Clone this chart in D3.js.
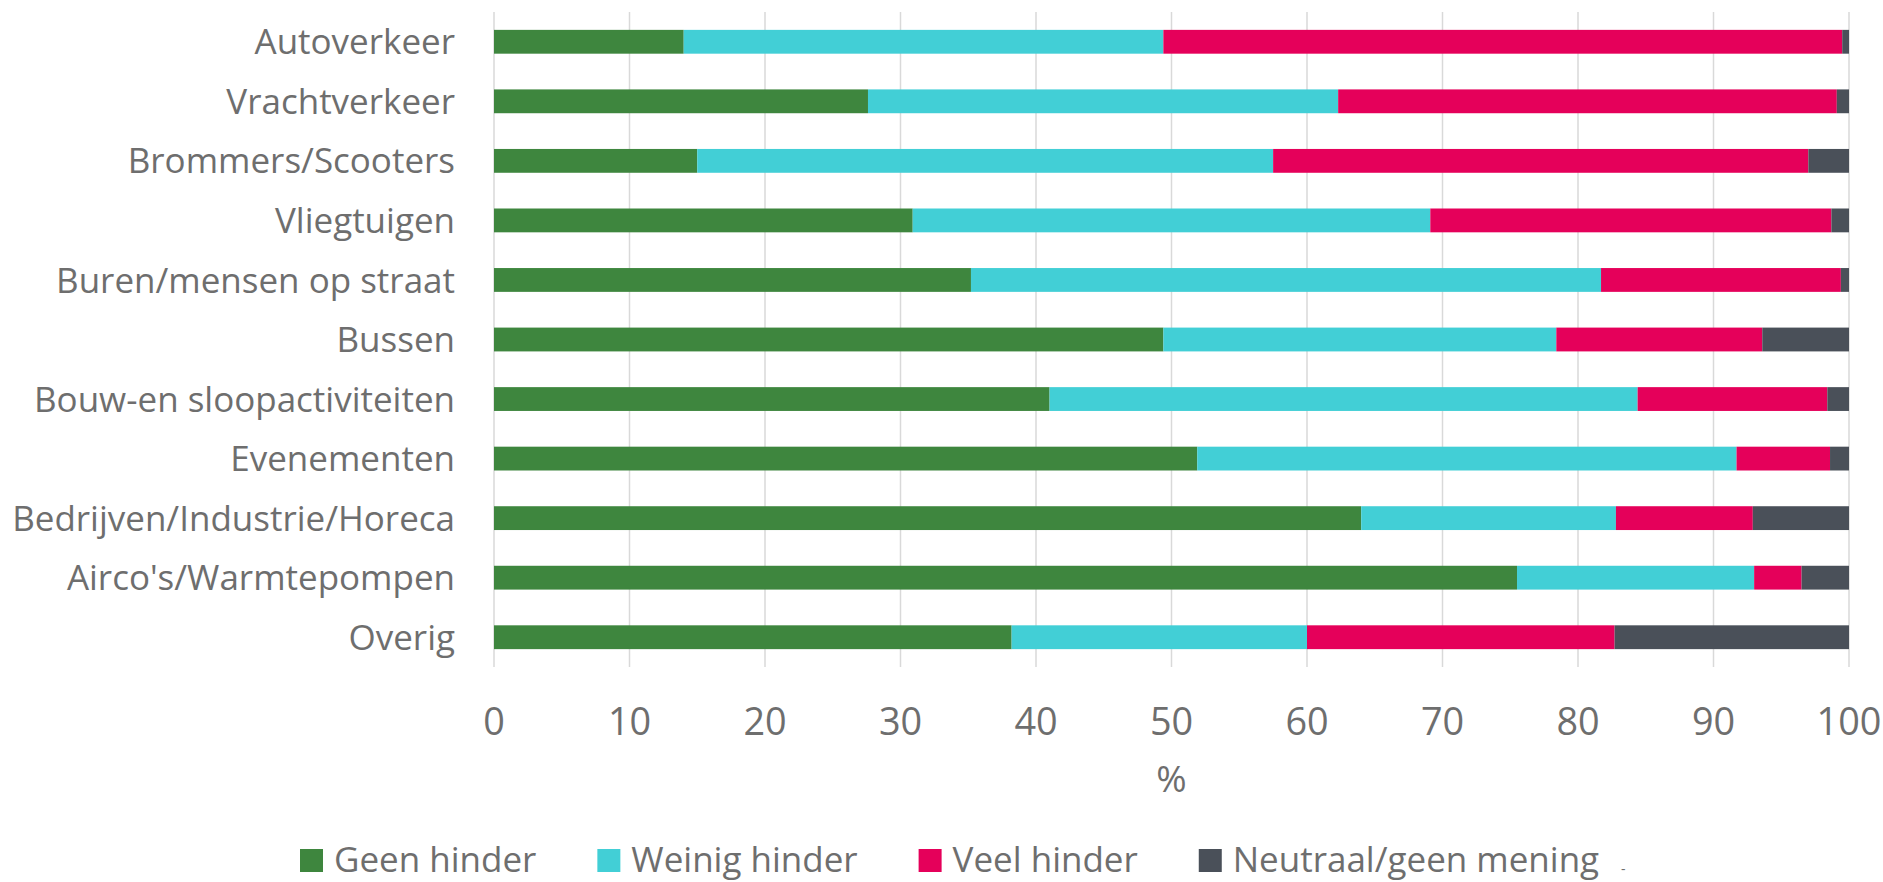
<!DOCTYPE html>
<html>
<head>
<meta charset="utf-8">
<script src="https://cdn.jsdelivr.net/npm/d3@7"></script>
<style>
  body { margin: 0; background: #fff; }
  svg text { font-family: "Open Sans", "Noto Sans", sans-serif; fill: #6e6e6e; }
</style>
</head>
<body>
<div class="chart"></div>
<script>
const categories = [
  'Autoverkeer', 'Vrachtverkeer', 'Brommers/Scooters', 'Vliegtuigen',
  'Buren/mensen op straat', 'Bussen', 'Bouw-en sloopactiviteiten',
  'Evenementen', 'Bedrijven/Industrie/Horeca', "Airco's/Warmtepompen", 'Overig'
];
const seriesNames = ['Geen hinder', 'Weinig hinder', 'Veel hinder', 'Neutraal/geen mening'];
const geenHinder   = [14.0, 27.6, 15.0, 30.9, 35.2, 49.4, 41.0, 51.9, 64.0, 75.5, 38.2];
const weinigHinder = [35.4, 34.7, 42.5, 38.2, 46.5, 29.0, 43.4, 39.8, 18.8, 17.5, 21.8];
const veelHinder   = [50.1, 36.8, 39.5, 29.6, 17.7, 15.2, 14.0,  6.9, 10.1,  3.5, 22.7];
const neutraal     = [ 0.5,  0.9,  3.0,  1.3,  0.6,  6.4,  1.6,  1.4,  7.1,  3.5, 17.3];
const xTicks = [0, 10, 20, 30, 40, 50, 60, 70, 80, 90, 100];
const colors = ['#3e863e', '#42cfd6', '#e5005a', '#4a5059'];

const w = 1883;
const h = 882;
const margin = { top: 12, right: 34, bottom: 215, left: 494 };

const rows = categories.map((c, i) => ({
  name: c,
  s0: geenHinder[i], s1: weinigHinder[i], s2: veelHinder[i], s3: neutraal[i]
}));

const stack = d3.stack().keys(['s0', 's1', 's2', 's3'])(rows);

const xScale = d3.scaleLinear()
                 .domain([0, 100])
                 .range([margin.left, w - margin.right]);

const yScale = d3.scaleBand()
                 .domain(categories)
                 .range([margin.top, h - margin.bottom])
                 .paddingInner(0.6)
                 .paddingOuter(0.3);

const svg = d3.select('.chart')
              .append('svg')
              .attr('width', w)
              .attr('height', h);

// pick a font size so the longest label is as wide as in the original
const probe = svg.append('text').style('font-size', '100px').text('Bedrijven/Industrie/Horeca');
const fs = Math.min(36, 100 * 443 / probe.node().getComputedTextLength());
probe.remove();

// gridlines
svg.append('g')
   .selectAll('line')
   .data(xTicks)
   .enter()
   .append('line')
   .attr('x1', d => xScale(d))
   .attr('x2', d => xScale(d))
   .attr('y1', margin.top)
   .attr('y2', h - margin.bottom)
   .attr('stroke', '#d9d9d9')
   .attr('stroke-width', 1.5);

// bars
svg.append('g')
   .selectAll('g')
   .data(stack)
   .enter()
   .append('g')
   .attr('fill', (d, i) => colors[i])
   .selectAll('rect')
   .data(d => d)
   .enter()
   .append('rect')
   .attr('x', d => xScale(d[0]))
   .attr('width', d => xScale(d[1]) - xScale(d[0]))
   .attr('y', d => yScale(d.data.name))
   .attr('height', yScale.bandwidth());

// category labels
svg.append('g')
   .selectAll('text')
   .data(categories)
   .enter()
   .append('text')
   .attr('x', margin.left - 39)
   .attr('y', d => yScale(d) + yScale.bandwidth() / 2)
   .attr('dy', '0.36em')
   .style('text-anchor', 'end')
   .style('font-size', `${fs}px`)
   .text(d => d);

// x tick labels
svg.append('g')
   .selectAll('text')
   .data(xTicks)
   .enter()
   .append('text')
   .attr('x', d => xScale(d))
   .attr('y', 735)
   .style('text-anchor', 'middle')
   .style('font-size', `${fs * 1.08}px`)
   .text(d => d);

svg.append('text')
   .attr('x', (xScale(0) + xScale(100)) / 2)
   .attr('y', 792)
   .style('text-anchor', 'middle')
   .style('font-size', `${fs * 1.05}px`)
   .text('%');

// legend
const legend = svg.append('g');
let lx = 300;
seriesNames.forEach((name, i) => {
  legend.append('rect')
        .attr('x', lx)
        .attr('y', 849)
        .attr('width', 23)
        .attr('height', 23)
        .attr('fill', colors[i]);
  const t = legend.append('text')
                  .attr('x', lx + 34)
                  .attr('y', 872)
                  .style('font-size', `${fs}px`)
                  .text(name);
  lx += 34 + t.node().getComputedTextLength() + 61;
});

legend.append('text')
      .attr('x', 1621)
      .attr('y', 874)
      .style('font-size', '14px')
      .text('-');
</script>
</body>
</html>
